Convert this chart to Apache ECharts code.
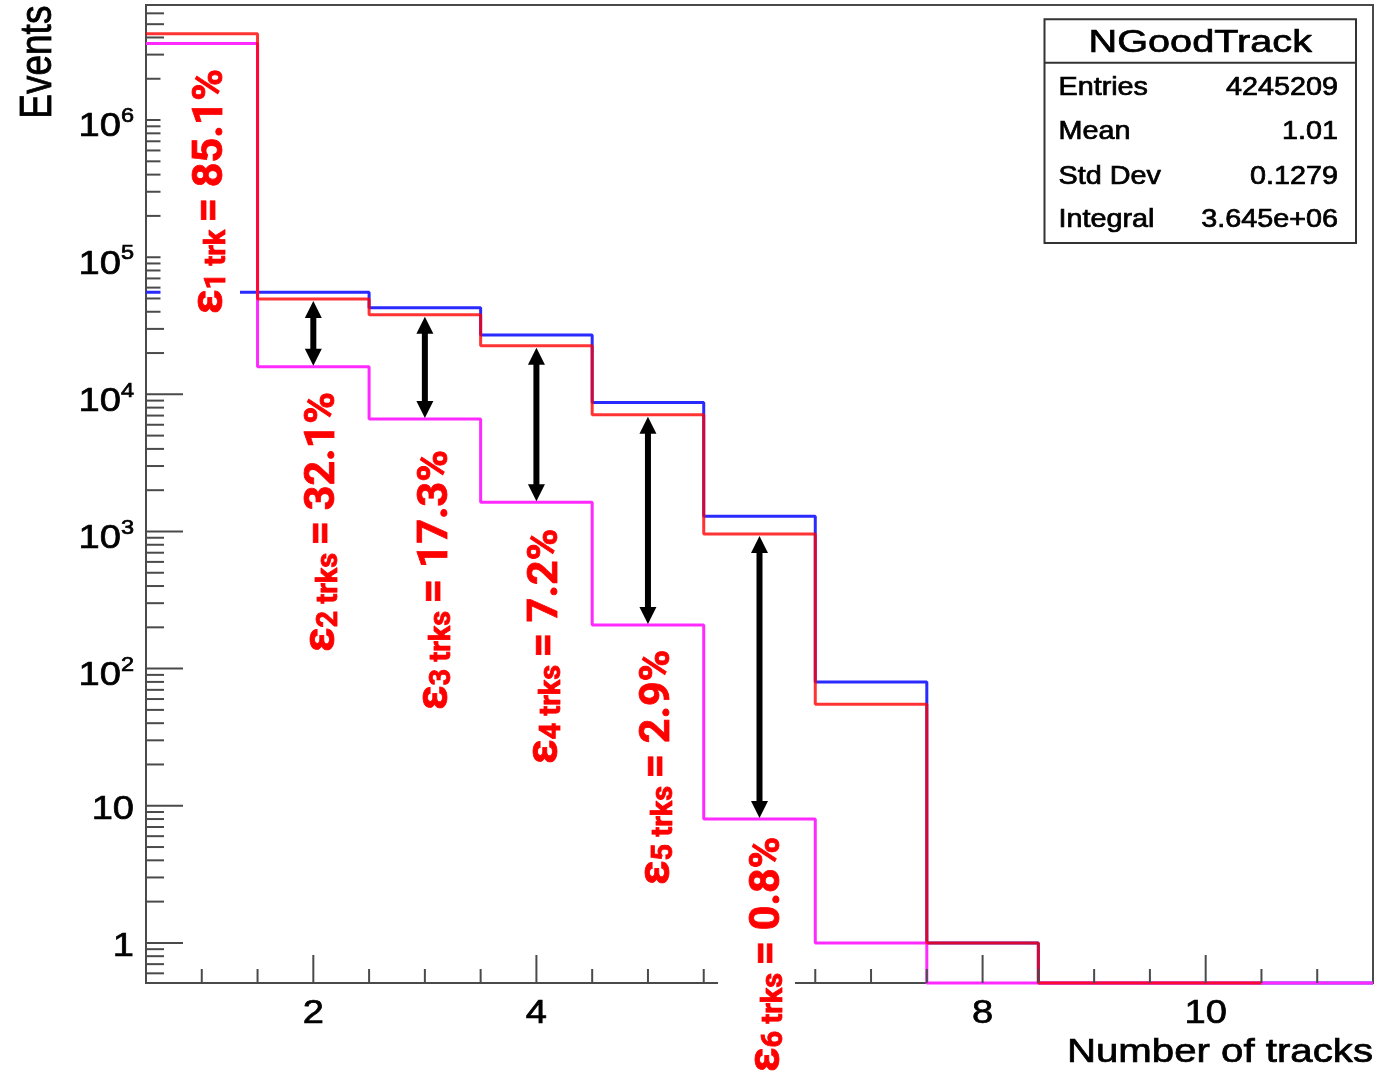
<!DOCTYPE html>
<html>
<head>
<meta charset="utf-8">
<title>NGoodTrack</title>
<script src="https://cdn.jsdelivr.net/npm/echarts@6/dist/echarts.min.js"></script>
<style>
  html, body { margin: 0; padding: 0; background: #ffffff; }
  #chart { width: 1381px; height: 1074px; }
</style>
</head>
<body>
<div id="chart"></div>
<script>
// ---- data -------------------------------------------------------------
// Number-of-tracks histograms, one entry per unit-wide bin centred on 1..11
const binCenters    = [1, 2, 3, 4, 5, 6, 7, 8, 9, 10, 11];
const blueCounts    = [55600, 55600, 42800, 27100, 8710, 1290, 80, 1, 0, 0, 0];
const redCounts     = [4255000, 49500, 38100, 22600, 7090, 960, 55, 1, 0, 0];
const magentaCounts = [3621000, 15900, 6600, 1630, 208, 8, 1, 0, 0, 0, 0];

// efficiency annotations per track multiplicity
const effSubscripts = ['1 trk', '2 trks', '3 trks', '4 trks', '5 trks', '6 trks'];
const effValues     = ['85.1%', '32.1%', '17.3%', '7.2%', '2.9%', '0.8%'];
// bins that get a red-to-magenta arrow
const arrowBins = [2, 3, 4, 5, 6];

// axis ticks
const yMajorTicks = [1, 10, 100, 1000, 10000, 100000, 1000000];
const yTickLabels = ['1', '10', '10^2', '10^3', '10^4', '10^5', '10^6'];
const xMajorTicks = [2, 4, 6, 8, 10];
const xTickLabels = ['2', '4', '6', '8', '10'];

// statistics box
const statsTitle  = 'NGoodTrack';
const statsNames  = ['Entries', 'Mean', 'Std Dev', 'Integral'];
const statsValues = ['4245209', '1.01', '0.1279', '3.645e+06'];

// ---- axis ranges --------------------------------------------------------
const X_MIN = 0.5, X_MAX = 11.5;
const Y_MIN = 0.51, Y_MAX = 6.9e6;

const FONT = 'Liberation Sans';
const LABEL_FONT = 'Roboto';
const AXIS_GRAY = '#4a4a4a';
// slight outline so the thin sans text reads as heavy as the frame
const INK = { fill: '#000', stroke: '#000', lineWidth: 0.7 };

// histogram outline: a flat segment per bin, verticals appear between bins
function stepPoints(counts) {
  const pts = [];
  counts.forEach(function (c, i) {
    const v = c > 0 ? c : Y_MIN;
    pts.push([binCenters[i] - 0.5, v], [binCenters[i] + 0.5, v]);
  });
  return pts;
}

function histSeries(name, counts, color, z) {
  return {
    name: name, type: 'line', data: stepPoints(counts),
    showSymbol: false, symbol: 'none', clip: false, z: z,
    lineStyle: { color: color, width: 3 },
    emphasis: { disabled: true }, silent: true
  };
}

// tick positions
const yTickData = [];
for (let d = -1; d <= 6; d++) {
  for (let k = 1; k <= 9; k++) {
    const v = k * Math.pow(10, d);
    if (v >= Y_MIN && v <= Y_MAX) yTickData.push([X_MIN, v, k === 1 ? 1 : 0]);
  }
}
const xTickData = [];
for (let v = 1; v <= 11; v += 0.5) {
  xTickData.push([v, Y_MIN, v % 2 === 0 ? 1 : 0]);
}

function supText(s) {
  const parts = s.split('^');
  return parts.length > 1 ? '{m|' + parts[0] + '}{p|' + parts[1] + '}' : '{m|' + s + '}';
}
const tickRich = {
  m: Object.assign({ fontFamily: FONT, fontSize: 34, lineHeight: 38, verticalAlign: 'bottom' }, INK),
  p: Object.assign({ fontFamily: FONT, fontSize: 21, lineHeight: 18, verticalAlign: 'top' }, INK)
};

// ---- efficiency labels (vertical, reading upwards) ----------------------
const RED_INK = { fill: '#ff0000', stroke: '#ff0000', lineWidth: 0.8 };
const effRich = {
  e: Object.assign({ fontFamily: LABEL_FONT, fontWeight: 'bold', fontSize: 44, lineHeight: 55, verticalAlign: 'bottom' }, RED_INK),
  s: Object.assign({ fontFamily: LABEL_FONT, fontWeight: 'bold', fontSize: 29, lineHeight: 29, verticalAlign: 'bottom' }, RED_INK),
  m: Object.assign({ fontFamily: LABEL_FONT, fontWeight: 'bold', fontSize: 43, lineHeight: 55, verticalAlign: 'bottom' }, RED_INK)
};
const effLayout = [
  { x: 240,   y: 320,  pad: [17, 4, 7.5, 6] },
  { x: 344.5, y: 652 },
  { x: 457.5, y: 710 },
  { x: 567.5, y: 764 },
  { x: 679.5, y: 885 },
  { x: 795,   y: 1074, pad: [16.5, 4, 5.5, 2] }
];
const effGraphics = effValues.map(function (val, i) {
  const lay = effLayout[i];
  const style = {
    text: '{e|ε}{s|' + effSubscripts[i] + ' }{m|= ' + val + '}',
    rich: effRich, align: 'left', verticalAlign: 'bottom'
  };
  if (lay.pad) { style.backgroundColor = '#ffffff'; style.padding = lay.pad; }
  return { type: 'text', x: lay.x, y: lay.y, rotation: Math.PI / 2, z: 100, silent: true, style: style };
});

// ---- statistics box -----------------------------------------------------
const boxX = 1044.5, boxY = 19.3, boxW = 311.5, boxH = 223.7, sepY = 62.7;
const rowY = [88.3, 132.5, 176.7, 220];
function inkText(extra) { return Object.assign({ fontFamily: FONT }, INK, extra); }
const statsGraphics = [
  { type: 'rect', shape: { x: boxX, y: boxY, width: boxW, height: boxH }, z: 90,
    style: { fill: '#ffffff', stroke: '#333333', lineWidth: 2 } },
  { type: 'line', shape: { x1: boxX, y1: sepY, x2: boxX + boxW, y2: sepY }, z: 91,
    style: { stroke: '#333333', lineWidth: 2 } },
  { type: 'text', x: boxX + boxW / 2, y: 43.8, scaleX: 1.28, z: 92,
    style: inkText({ text: statsTitle, fontSize: 31, align: 'center', verticalAlign: 'middle' }) }
];
statsNames.forEach(function (n, i) {
  statsGraphics.push(
    { type: 'text', x: 1058.5, y: rowY[i], scaleX: 1.15, z: 92,
      style: inkText({ text: n, fontSize: 25, align: 'left', verticalAlign: 'middle' }) },
    { type: 'text', x: 1338, y: rowY[i], scaleX: 1.15, z: 92,
      style: inkText({ text: statsValues[i], fontSize: 25, align: 'right', verticalAlign: 'middle' }) }
  );
});

// ---- axis titles --------------------------------------------------------
const titleGraphics = [
  { type: 'text', x: 38.5, y: 5.6, rotation: Math.PI / 2, scaleY: 1.2, z: 92,
    style: inkText({ text: 'Events', fontSize: 37, align: 'right', verticalAlign: 'middle' }) },
  { type: 'text', x: 1373, y: 1053, scaleX: 1.2, z: 92,
    style: inkText({ text: 'Number of tracks', fontSize: 33.5, align: 'right', verticalAlign: 'middle' }) }
];

const chart = echarts.init(document.getElementById('chart'), null, { renderer: 'canvas' });

chart.setOption({
  animation: false,
  backgroundColor: '#ffffff',
  grid: {
    left: 146, right: 8, top: 5, bottom: 91,
    show: true, borderColor: AXIS_GRAY, borderWidth: 2, backgroundColor: 'transparent',
    outerBoundsMode: 'none'
  },
  xAxis: {
    type: 'value', min: X_MIN, max: X_MAX,
    axisLine: { show: false }, axisTick: { show: false },
    axisLabel: { show: false }, splitLine: { show: false }
  },
  yAxis: {
    type: 'log', logBase: 10, min: Y_MIN, max: Y_MAX,
    axisLine: { show: false }, axisTick: { show: false },
    axisLabel: { show: false }, splitLine: { show: false }
  },
  graphic: { elements: effGraphics.concat(statsGraphics, titleGraphics) },
  series: [
    histSeries('all', blueCounts, '#2a2aff', 2),
    histSeries('selected', magentaCounts, '#ff2aff', 3),
    histSeries('reference', redCounts, 'rgba(255,0,0,0.8)', 4),
    {
      // y-axis ticks drawn inward from the left frame
      type: 'custom', coordinateSystem: 'cartesian2d', data: yTickData,
      encode: { x: 0, y: 1 }, clip: false, silent: true, z: 5,
      renderItem: function (params, api) {
        const p = api.coord([api.value(0), api.value(1)]);
        const len = api.value(2) ? 37 : 18;
        return { type: 'line', shape: { x1: p[0], y1: p[1], x2: p[0] + len, y2: p[1] },
                 style: { stroke: AXIS_GRAY, lineWidth: 2 } };
      }
    },
    {
      // x-axis ticks drawn upward from the bottom frame
      type: 'custom', coordinateSystem: 'cartesian2d', data: xTickData,
      encode: { x: 0, y: 1 }, clip: false, silent: true, z: 5,
      renderItem: function (params, api) {
        const p = api.coord([api.value(0), api.value(1)]);
        const len = api.value(2) ? 28 : 14;
        return { type: 'line', shape: { x1: p[0], y1: p[1], x2: p[0], y2: p[1] - len },
                 style: { stroke: AXIS_GRAY, lineWidth: 2 } };
      }
    },
    {
      // y tick labels
      type: 'custom', coordinateSystem: 'cartesian2d',
      data: yMajorTicks.map(function (v, i) { return [X_MIN, v, i]; }),
      encode: { x: 0, y: 1 }, clip: false, silent: true, z: 5,
      renderItem: function (params, api) {
        const p = api.coord([api.value(0), api.value(1)]);
        const lbl = yTickLabels[api.value(2)];
        const dy = lbl.indexOf('^') >= 0 ? 5 : 2;
        return { type: 'text', x: p[0] - 12, y: p[1] + dy, scaleX: 1.12,
                 style: { text: supText(lbl), rich: tickRich, align: 'right', verticalAlign: 'middle' } };
      }
    },
    {
      // x tick labels
      type: 'custom', coordinateSystem: 'cartesian2d',
      data: xMajorTicks.map(function (v, i) { return [v, Y_MIN, i]; }),
      encode: { x: 0, y: 1 }, clip: false, silent: true, z: 5,
      renderItem: function (params, api) {
        const p = api.coord([api.value(0), api.value(1)]);
        return { type: 'text', x: p[0], y: p[1] + 29, scaleX: 1.12,
                 style: { text: supText(xTickLabels[api.value(2)]), rich: tickRich, align: 'center', verticalAlign: 'middle' } };
      }
    },
    {
      // double-headed arrows from the red level down to the magenta level
      type: 'custom', coordinateSystem: 'cartesian2d',
      data: arrowBins.map(function (b) { return [b, redCounts[b - 1], magentaCounts[b - 1]]; }),
      encode: { x: 0, y: 1 }, clip: false, silent: true, z: 6,
      renderItem: function (params, api) {
        const top = api.coord([api.value(0), api.value(1)]);
        const bot = api.coord([api.value(0), api.value(2)]);
        const cx = top[0], y1 = top[1] + 2, y2 = bot[1] - 1;
        const hw = 8.5, hl = 17, sw = 3;
        return {
          type: 'group',
          children: [
            { type: 'rect', shape: { x: cx - sw, y: y1 + hl - 1, width: 2 * sw, height: (y2 - y1) - 2 * hl + 2 },
              style: { fill: '#000' } },
            { type: 'polygon', shape: { points: [[cx, y1], [cx - hw, y1 + hl], [cx + hw, y1 + hl]] },
              style: { fill: '#000' } },
            { type: 'polygon', shape: { points: [[cx, y2], [cx - hw, y2 - hl], [cx + hw, y2 - hl]] },
              style: { fill: '#000' } }
          ]
        };
      }
    }
  ]
});
</script>
</body>
</html>
